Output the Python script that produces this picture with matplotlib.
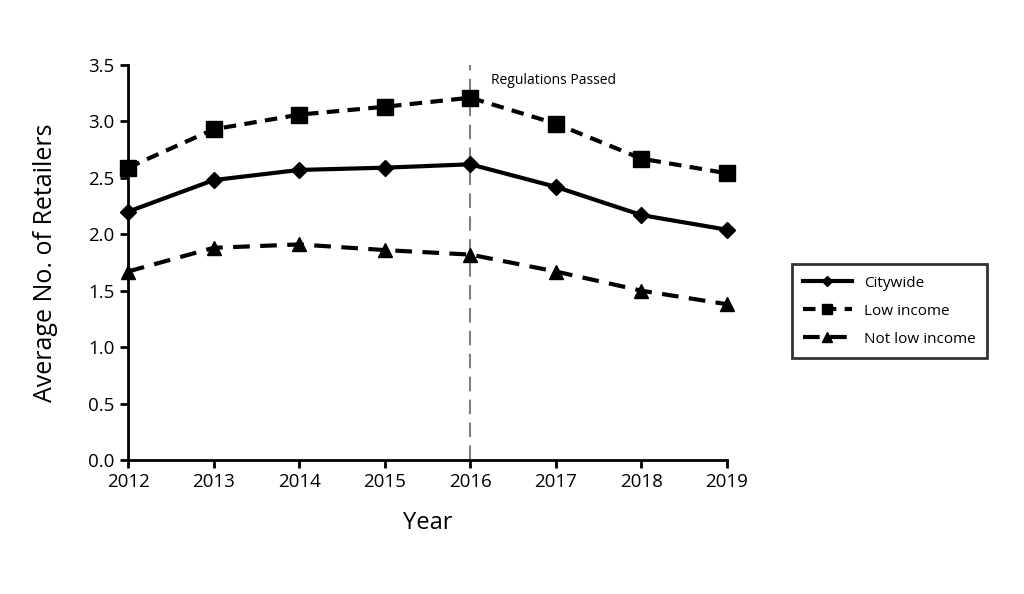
import numpy as np
import matplotlib.pyplot as plt

plt.rcParams['font.family'] = ['Open Sans', 'DejaVu Sans']

# data
years = [2012, 2013, 2014, 2015, 2016, 2017, 2018, 2019]
citywide = [2.20, 2.48, 2.57, 2.59, 2.62, 2.42, 2.17, 2.04]
low_income = [2.59, 2.93, 3.06, 3.13, 3.21, 2.98, 2.67, 2.54]
not_low_income = [1.67, 1.88, 1.91, 1.86, 1.82, 1.67, 1.50, 1.38]

fig = plt.figure(figsize=(10.24, 5.94), dpi=100)
ax = fig.add_axes([0.125, 0.2256, 0.585, 0.665])

ax.plot(years, citywide, color='black', lw=3, marker='D', ms=8, label='Citywide', clip_on=False, zorder=3)
ax.plot(years, low_income, color='black', lw=3, ls=(0, (3, 2)), marker='s', ms=11, label='Low income', clip_on=False, zorder=3)
ax.plot(years, not_low_income, color='black', lw=3, ls=(0, (4, 2.5)), marker='^', ms=10, label='Not low income', clip_on=False, zorder=3)

# policy line
ax.axvline(2016, color='gray', lw=1.5, ls=(0, (7, 4)))
ax.text(2016.24, 3.36, 'Regulations Passed', fontsize=10, va='center')

ax.set_xlim(2012, 2019)
ax.set_ylim(0, 3.5)
ax.set_xticks(years)
ax.set_yticks(np.arange(0, 3.51, 0.5))
ax.set_yticklabels(['%.1f' % v for v in np.arange(0, 3.51, 0.5)])
ax.spines['top'].set_visible(False)
ax.spines['right'].set_visible(False)
ax.spines['left'].set_linewidth(2)
ax.spines['bottom'].set_linewidth(2)
ax.tick_params(width=2, length=6, labelsize=13.5)
ax.set_xlabel('Year', fontsize=17, labelpad=14)
ax.set_ylabel('Average No. of Retailers', fontsize=18, labelpad=22)

leg = ax.legend(loc='center left', bbox_to_anchor=(1.095, 0.377), fontsize=11,
                frameon=True, fancybox=False, edgecolor='black', handlelength=3.2,
                borderpad=0.75, labelspacing=0.85, markerscale=0.7)
leg.get_frame().set_linewidth(2)

fig.savefig('out.png', dpi=100)
